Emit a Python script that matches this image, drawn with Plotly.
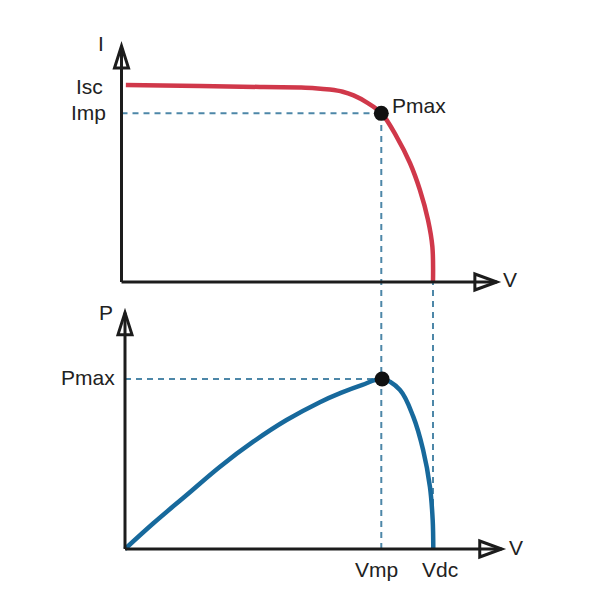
import plotly.graph_objects as go

# ---------------- data (normalised units) ----------------
Isc = 1.0
Imp = 0.856
Vmp = 0.834
Vdc = 1.0
Pmax = 0.714

V_iv = [0.014, 0.252, 0.445, 0.573, 0.621, 0.669, 0.710, 0.745, 0.787, 0.835, 0.883, 0.926, 0.958, 0.984, 0.998, 1.0]
I_iv = [1.0, 0.995, 0.990, 0.987, 0.984, 0.977, 0.966, 0.947, 0.912, 0.856, 0.738, 0.604, 0.467, 0.315, 0.179, 0.0]

V_pv = [0.0, 0.092, 0.200, 0.308, 0.416, 0.524, 0.632, 0.700, 0.770, 0.834, 0.892, 0.935, 0.967, 0.989, 0.998, 1.0]
P_pv = [0.0, 0.108, 0.227, 0.346, 0.451, 0.542, 0.617, 0.656, 0.690, 0.714, 0.668, 0.556, 0.416, 0.262, 0.122, 0.0]

# axis extents (arrow tips) in data units
top_x_end, top_y_end = 1.205, 1.198
bot_x_end, bot_y_end = 1.222, 0.993

# ---------------- layout calibration ----------------
W = H = 600
OFF = 8.0  # page body margin of the rendered html
top_dom, bot_dom = [0.5, 1.0], [0.0, 0.5]
tx0, tsx, ty0, tsy = 121.5 - OFF, 311.5, 282.0 - OFF, 197.0
bx0, bsx, by0, bsy = 125.0 - OFF, 308.3, 549.0 - OFF, 238.0

top_xr = [-tx0 / tsx, (W - tx0) / tsx]
top_yr = [(ty0 - H * (1 - top_dom[0])) / tsy, (ty0 - H * (1 - top_dom[1])) / tsy]
bot_xr = [-bx0 / bsx, (W - bx0) / bsx]
bot_yr = [(by0 - H * (1 - bot_dom[0])) / bsy, (by0 - H * (1 - bot_dom[1])) / bsy]


def paper_y(v, rng, dom):
    return dom[0] + (v - rng[0]) / (rng[1] - rng[0]) * (dom[1] - dom[0])


RED = "#d0384a"
BLUE = "#17699c"
DASH = "#4d87a8"
AX = "#1c1c1c"
FONT = dict(family="Liberation Sans, Arial, sans-serif", size=21, color="#222222")

fig = go.Figure()
fig.add_trace(go.Scatter(x=V_iv, y=I_iv, mode="lines", xaxis="x", yaxis="y",
                         line=dict(color=RED, width=4.5, shape="spline", smoothing=1.0),
                         hoverinfo="skip"))
fig.add_trace(go.Scatter(x=V_pv, y=P_pv, mode="lines", xaxis="x2", yaxis="y2",
                         line=dict(color=BLUE, width=4.5, shape="spline", smoothing=1.0),
                         hoverinfo="skip"))

shapes = []
dash = dict(color=DASH, width=2, dash="6px,5px")
# dashed guides
shapes.append(dict(type="line", xref="x", yref="y", x0=0, x1=Vmp, y0=Imp, y1=Imp, line=dash, layer="below"))
shapes.append(dict(type="line", xref="x2", yref="y2", x0=0, x1=Vmp, y0=Pmax, y1=Pmax, line=dash, layer="below"))
shapes.append(dict(type="line", xref="x", yref="paper", x0=Vmp, x1=Vmp,
                   y0=paper_y(0, bot_yr, bot_dom), y1=paper_y(Imp, top_yr, top_dom), line=dash, layer="below"))
shapes.append(dict(type="line", xref="x", yref="paper", x0=Vdc, x1=Vdc,
                   y0=paper_y(0, bot_yr, bot_dom), y1=paper_y(0, top_yr, top_dom), line=dash, layer="below"))

axline = dict(color=AX, width=3)
for xr, yr, xe, ye in [("x", "y", top_x_end, top_y_end), ("x2", "y2", bot_x_end, bot_y_end)]:
    shapes.append(dict(type="line", xref=xr, yref=yr, x0=0, x1=xe, y0=0, y1=0, line=axline))
    shapes.append(dict(type="line", xref=xr, yref=yr, x0=0, x1=0, y0=0, y1=ye, line=axline))
    shapes.append(dict(type="path", xref=xr, yref=yr, xsizemode="pixel", ysizemode="pixel",
                       xanchor=xe, yanchor=0, path="M-22,8 L0,0 L-22,-8 Z",
                       line=dict(color=AX, width=3), fillcolor="rgba(0,0,0,0)"))
    shapes.append(dict(type="path", xref=xr, yref=yr, xsizemode="pixel", ysizemode="pixel",
                       xanchor=0, yanchor=ye, path="M-7,-22 L0,0 L7,-22 Z",
                       line=dict(color=AX, width=3), fillcolor="rgba(0,0,0,0)"))

# max power points
fig.add_trace(go.Scatter(x=[Vmp], y=[Imp], mode="markers", xaxis="x", yaxis="y",
                         marker=dict(color="#111111", size=15), hoverinfo="skip"))
fig.add_trace(go.Scatter(x=[Vmp], y=[Pmax], mode="markers", xaxis="x2", yaxis="y2",
                         marker=dict(color="#111111", size=15), hoverinfo="skip"))

ann = []


def label(text, xr, yr, x, y, xanchor, xshift=0, yshift=0, yanchor="middle"):
    ann.append(dict(text=text, xref=xr, yref=yr, x=x, y=y, showarrow=False, font=FONT,
                    xanchor=xanchor, yanchor=yanchor, xshift=xshift, yshift=yshift))


label("I", "x", "y", 0, top_y_end, "center", xshift=-21, yshift=2)
label("Isc", "x", "y", 0, Isc, "right", xshift=-17, yshift=-1)
label("Imp", "x", "y", 0, Imp, "right", xshift=-14, yshift=1)
label("Pmax", "x", "y", Vmp, Imp, "left", xshift=9, yshift=8)
label("V", "x", "y", top_x_end, 0, "left", xshift=4, yshift=3)
label("P", "x2", "y2", 0, bot_y_end, "center", xshift=-19, yshift=0)
label("Pmax", "x2", "y2", 0, Pmax, "right", xshift=-8, yshift=2)
label("V", "x2", "y2", bot_x_end, 0, "left", xshift=5, yshift=2)
label("Vmp", "x2", "y2", Vmp, 0, "center", xshift=-6, yshift=-20)
label("Vdc", "x2", "y2", Vdc, 0, "center", xshift=7, yshift=-20)

hidden = dict(visible=False, showgrid=False, zeroline=False, fixedrange=True)
fig.update_layout(
    width=W, height=H, margin=dict(l=0, r=0, t=0, b=0),
    paper_bgcolor="white", plot_bgcolor="white", showlegend=False,
    xaxis=dict(domain=[0, 1], range=top_xr, anchor="y", **hidden),
    yaxis=dict(domain=top_dom, range=top_yr, anchor="x", **hidden),
    xaxis2=dict(domain=[0, 1], range=bot_xr, anchor="y2", **hidden),
    yaxis2=dict(domain=bot_dom, range=bot_yr, anchor="x2", **hidden),
    shapes=shapes, annotations=ann,
)

fig.write_html("out.html")
